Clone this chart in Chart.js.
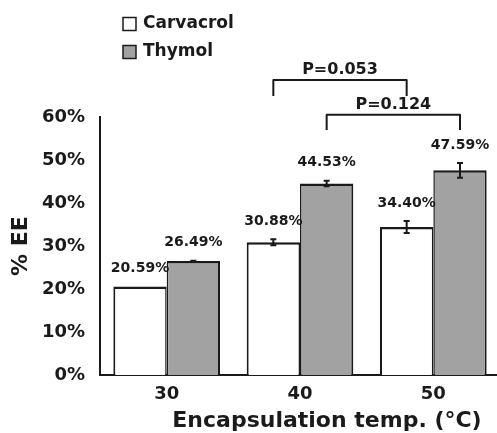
<!DOCTYPE html>
<html>
<head>
<meta charset="utf-8">
<script src="https://cdn.jsdelivr.net/npm/chart.js@4.4.0/dist/chart.umd.min.js"></script>
<style>
  html, body { margin: 0; padding: 0; background: #fff; overflow: hidden; }
  #grafico { display: block; }
</style>
</head>
<body>
<canvas id="grafico" width="500" height="433"></canvas>
<script>
//Datos
const temperaturas = ['30', '40', '50'];
const carvacrol = [20.59, 30.88, 34.40];
const timol = [26.49, 44.53, 47.59];
const errCarvacrol = [0, 0.7, 1.4];
const errTimol = [0.1, 0.65, 1.7];
const nombres = ['Carvacrol', 'Thymol'];
const ticksY = [0, 10, 20, 30, 40, 50, 60];

//Comparaciones (serie, desde, hasta, altura de la llave y de las patas en %)
const pTextos = ['P=0.053', 'P=0.124'];
const pSerie = [0, 1];
const pDesde = [1, 1];
const pHasta = [2, 2];
const pTope = [68.6, 60.5];
const pPata = [64.9, 57.0];

const errores = [errCarvacrol, errTimol];
const tinta = '#1a1a1a';
Chart.defaults.font.family = "'DejaVu Sans', sans-serif";

//Barras de error y etiquetas de valor
const extras = {
    id: 'extras',
    afterDatasetsDraw(chart) {
        const ctx = chart.ctx;
        const y = chart.scales.y;
        ctx.save();
        chart.data.datasets.forEach((ds, i) => {
            const meta = chart.getDatasetMeta(i);
            meta.data.forEach((bar, j) => {
                const v = ds.data[j];
                const e = errores[i][j];
                if (e > 0) {
                    const yA = y.getPixelForValue(v + e);
                    const yB = y.getPixelForValue(v - e);
                    ctx.strokeStyle = tinta;
                    ctx.lineWidth = 2;
                    ctx.beginPath();
                    ctx.moveTo(bar.x, yA); ctx.lineTo(bar.x, yB);
                    ctx.moveTo(bar.x - 3, yA); ctx.lineTo(bar.x + 3, yA);
                    ctx.moveTo(bar.x - 3, yB); ctx.lineTo(bar.x + 3, yB);
                    ctx.stroke();
                }
                ctx.fillStyle = tinta;
                ctx.font = "bold 14px 'DejaVu Sans'";
                ctx.textAlign = 'center';
                ctx.textBaseline = 'middle';
                ctx.fillText(v.toFixed(2) + '%', bar.x, y.getPixelForValue(v + e) - 18);
            });
        });
        //llaves de significancia
        pTextos.forEach((txt, k) => {
            const meta = chart.getDatasetMeta(pSerie[k]);
            const x1 = meta.data[pDesde[k]].x;
            const x2 = meta.data[pHasta[k]].x;
            const yT = y.getPixelForValue(pTope[k]);
            const yP = y.getPixelForValue(pPata[k]);
            ctx.strokeStyle = tinta;
            ctx.lineWidth = 2;
            ctx.lineJoin = 'round';
            ctx.beginPath();
            ctx.moveTo(x1, yP);
            ctx.lineTo(x1, yT);
            ctx.lineTo(x2, yT);
            ctx.lineTo(x2, yP);
            ctx.stroke();
            ctx.fillStyle = tinta;
            ctx.font = "bold 16px 'DejaVu Sans'";
            ctx.textAlign = 'center';
            ctx.textBaseline = 'alphabetic';
            ctx.fillText(txt, (x1 + x2) / 2, yT - 6);
        });
        ctx.restore();
    },
    afterDraw(chart) {
        const ctx = chart.ctx;
        ctx.save();
        //leyenda vertical
        chart.data.datasets.forEach((ds, i) => {
            const cy = 24 + i * 28;
            ctx.fillStyle = ds.backgroundColor;
            ctx.strokeStyle = tinta;
            ctx.lineWidth = 1.5;
            ctx.fillRect(123, cy - 6.5, 13, 13);
            ctx.strokeRect(123, cy - 6.5, 13, 13);
            ctx.fillStyle = tinta;
            ctx.font = "bold 17px 'DejaVu Sans'";
            ctx.textAlign = 'left';
            ctx.textBaseline = 'middle';
            ctx.fillText(ds.label, 143, cy);
        });
        //titulo eje x
        ctx.font = "bold 22px 'DejaVu Sans'";
        ctx.textAlign = 'center';
        ctx.textBaseline = 'middle';
        ctx.fillText('Encapsulation temp. (°C)', 327, 421);
        ctx.restore();
    }
};

let myChart = new Chart(document.getElementById('grafico'), {
    type: 'bar',
    data: {
        labels: temperaturas,
        datasets: [{
            label: nombres[0],
            data: carvacrol,
            backgroundColor: '#ffffff',
            borderColor: tinta,
            borderWidth: { top: 2.5, left: 2, right: 1.5, bottom: 0 }
        }, {
            label: nombres[1],
            data: timol,
            backgroundColor: '#a2a2a2',
            borderColor: tinta,
            borderWidth: { top: 2.5, left: 1.5, right: 2, bottom: 0 }
        }]
    },
    options: {
        responsive: false,
        animation: false,
        layout: { padding: { top: 117, left: 0, right: 0, bottom: 0 } },
        datasets: { bar: { barPercentage: 1, categoryPercentage: 0.8 } },
        plugins: {
            legend: { display: false },
            tooltip: { enabled: false }
        },
        scales: {
            x: {
                grid: { display: false, drawTicks: false },
                border: { display: true, color: tinta, width: 2 },
                ticks: { color: tinta, padding: 9, font: { size: 18, weight: 'bold' } },
                afterFit: (s) => { s.height = 58; }
            },
            y: {
                min: 0,
                max: 60,
                afterBuildTicks: (s) => { s.ticks = ticksY.map(v => ({ value: v })); },
                grid: { display: false, drawTicks: false },
                border: { display: true, color: tinta, width: 2 },
                ticks: {
                    color: tinta,
                    padding: 15,
                    font: { size: 18, weight: 'bold' },
                    callback: (v) => v + '%'
                },
                title: {
                    display: true,
                    text: '% EE',
                    color: tinta,
                    padding: { top: 8, bottom: 0 },
                    font: { size: 22, weight: 'bold' }
                },
                afterFit: (s) => { s.width = 100; }
            }
        }
    },
    plugins: [extras]
});
</script>
</body>
</html>
